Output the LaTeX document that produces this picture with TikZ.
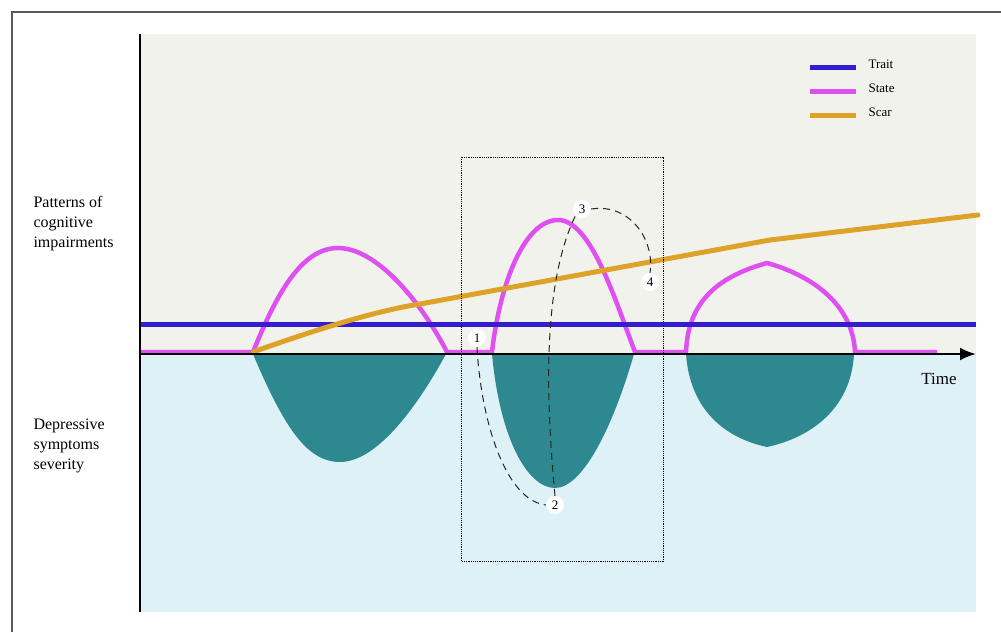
\documentclass[tikz,border=0pt]{standalone}
\usepackage{fontspec}
\setmainfont{Liberation Serif}
\usepackage{tikz}
\usetikzlibrary{arrows.meta,positioning}
\definecolor{panel}{RGB}{242,242,236}
\definecolor{lowpanel}{RGB}{222,241,247}
\definecolor{lobe}{RGB}{45,137,143}
\definecolor{trait}{RGB}{52,28,208}
\definecolor{state}{RGB}{222,80,240}
\definecolor{scar}{RGB}{221,163,40}
\tikzset{
  numdot/.style={circle,fill=white,inner sep=0.5pt,minimum size=18pt,font=\fontsize{13}{13}\selectfont},
  sidelabel/.style={anchor=north west,align=left,font=\fontsize{16}{20}\selectfont},
  legtext/.style={anchor=west,font=\fontsize{13}{13}\selectfont},
  path/.style={black!85,line width=1pt,dash pattern=on 7pt off 5pt}
}
\begin{document}
\begin{tikzpicture}[x=1pt,y=-1pt]
\useasboundingbox (0,0) rectangle (1001,632);
% frame and panels
\draw[gray!70!black,line width=2pt] (12,632) -- (12,12) -- (1001,12);
\fill[panel] (140,34) rectangle (976,353);
\fill[lowpanel] (140,353) rectangle (976,612);
% depressive episodes
\fill[lobe] (253,354) .. controls (285,430) and (308,462) .. (340,462) .. controls (372,462) and (410,420) .. (446,354) -- cycle;
\fill[lobe] (492,354) .. controls (500,440) and (528,488) .. (555,488) .. controls (582,488) and (612,430) .. (634,354) -- cycle;
\fill[lobe] (686,354) .. controls (690,410) and (725,438) .. (767,447) .. controls (809,438) and (851,410) .. (854,354) -- cycle;
% state
\draw[state,line width=4.5pt,line join=round] (140,352) -- (253,352)
  .. controls (275,298) and (300,248) .. (338,248) .. controls (376,248) and (420,300) .. (447,352)
  -- (492,352) .. controls (500,282) and (525,220) .. (558,220) .. controls (591,220) and (615,300) .. (635,352)
  -- (686,352) .. controls (688,300) and (720,276) .. (767,263) .. controls (814,276) and (853,306) .. (855,352)
  -- (937,352);
% trait
\draw[trait,line width=5pt] (140,324) -- (976,324);
% scar
\draw[scar,line width=5pt,line cap=round,line join=round] (253,352) .. controls (320,328) and (380,310) .. (420,304)
  -- (770,240) -- (978,215);
% axes
\draw[black,line width=2.5pt] (140,34) -- (140,612);
\draw[black,line width=2.5pt,-{Latex[length=16pt,width=13pt]}] (140,354) -- (976,354);
\node[font=\fontsize{17}{17}\selectfont] (time) at (939,379) {Time};
% labels
\node[sidelabel] (cog) at (30,193) {Patterns of\\cognitive\\impairments};
\node[sidelabel] (dep) at (30,415) {Depressive\\symptoms\\severity};
% legend
\draw[trait,line width=5pt] (810,67) -- (856,67);
\draw[state,line width=5pt] (810,91) -- (856,91);
\draw[scar,line width=5pt] (810,115) -- (856,115);
\node[legtext] (ltrait) at (865,64) {Trait};
\node[legtext] (lstate) at (865,88) {State};
\node[legtext] (lscar) at (865,112) {Scar};
% zoom box
\draw[black,line width=1pt,dash pattern=on 1.2pt off 1pt] (461,157) rectangle (663,561);
\node[numdot] (n1) at (477,338) {1};
\node[numdot] (n2) at (555,505) {2};
\node[numdot] (n3) at (582,209) {3};
\node[numdot] (n4) at (650,282) {4};
\draw[path] (n1.south) .. controls (481,420) and (505,500) .. (n2.west);
\draw[path] (n2.north) .. controls (546,400) and (542,285) .. (n3.south west);
\draw[path] (n3.east) .. controls (630,203) and (655,240) .. (n4.north);
\end{tikzpicture}
\end{document}
